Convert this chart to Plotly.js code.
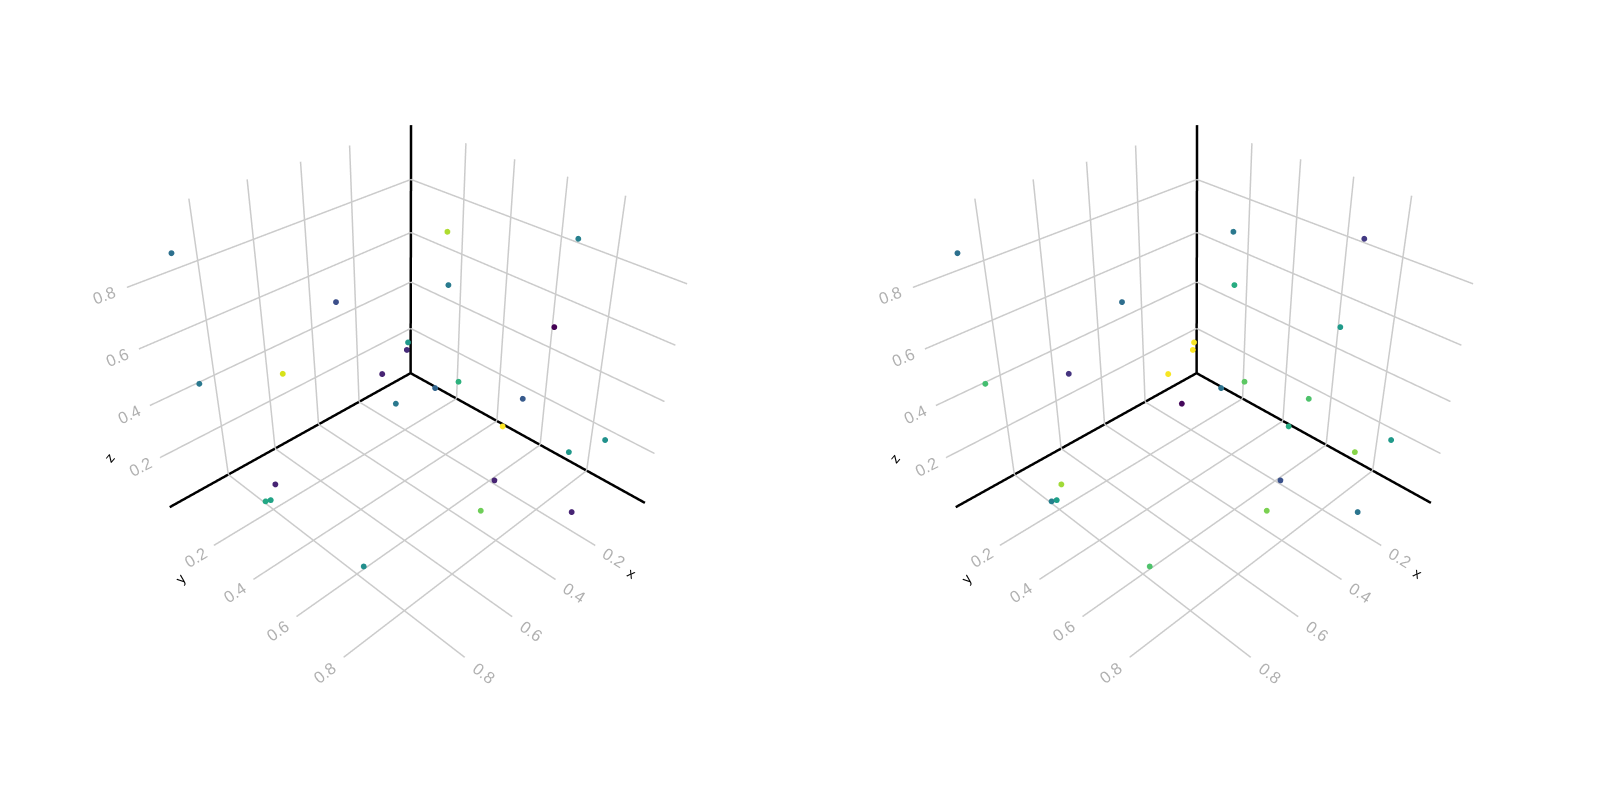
<!DOCTYPE html><html><head><meta charset="utf-8"><script src="https://cdn.plot.ly/plotly-3.0.1.min.js"></script></head><body style="margin:0;background:#fff">
<div id="g" style="width:1600px;height:800px"></div>
<script>
var xs=[.95,.61,.935,.784,.565,.459,.468,.562,.456,.417,.225,.327,.117,.244,.295,.332,.173,.08,.433,.211,.525,.856,.884,.892,.878];
var ys=[.08,.339,.093,.297,.475,.474,.478,.527,.582,.637,.404,.506,.788,.827,.779,.742,.878,.941,.804,.939,.834,.308,.316,.3,.721];
var zs=[.92,.74,.5,.56,.54,.6,.58,.46,.49,.52,.85,.75,.92,.71,.47,.37,.26,.29,.26,.08,.22,.2,.16,.15,.17];
var c1=[.37,.24,.40,.94,.1,.53,.12,.40,.32,.64,.88,.41,.43,0,.28,1,.53,.5,.1,.1,.78,.1,.58,.6,.49];
var c2=[.37,.36,.70,.15,.99,.99,1,.02,.38,.75,.40,.62,.17,.54,.72,.62,.82,.54,.25,.39,.8,.86,.56,.43,.72];
var xr=[-.08,1.035],yr=[-.05,1.035],zr=[-.01,.995];
var tv=[.2,.4,.6,.8];
var tl=['0.2','0.4','0.6','0.8'];
var e=.004;
var dom=[17.5/1600,797.5/1600], dom2=[803.5/1600,1583.5/1600];
function ax(r){return {title:{text:''},range:r,tickvals:tv,ticktext:tl,tickfont:{color:'#b0b0b0',size:14,family:'Liberation Sans'},showgrid:false,showline:false,zeroline:false,showbackground:false,showspikes:false,ticks:'outside',ticklen:0};}
function sc(d){return {domain:{x:d,y:[0,1]},aspectmode:'manual',aspectratio:{x:1.038,y:1.011,z:.935},camera:{eye:{x:1.467,y:1.467,z:1.40}},xaxis:ax(xr),yaxis:ax(yr),zaxis:ax(zr)};}
function tr(c,s){return {type:'scatter3d',mode:'markers',x:xs,y:ys,z:zs,scene:s,marker:{size:3.4,color:c,colorscale:'Viridis',cmin:0,cmax:1,line:{width:0}},showlegend:false};}
function ln(s,X,Y,Z,col,w){return {type:'scatter3d',mode:'lines',x:X,y:Y,z:Z,scene:s,line:{color:col,width:w},showlegend:false,hoverinfo:'skip',connectgaps:false};}
var a=xr[0]+e,b=yr[0]+e,c=zr[0]+e,A=xr[1]-e,B=yr[1]-e,C=zr[1]-e;
function grid(s){var X=[],Y=[],Z=[];
 function seg(p,q){X.push(p[0],q[0],null);Y.push(p[1],q[1],null);Z.push(p[2],q[2],null);}
 tv.forEach(function(t){seg([t,b,c],[t,B,c]);seg([a,t,c],[A,t,c]);seg([a,t,c],[a,t,C]);seg([t,b,c],[t,b,C]);seg([a,b,t],[A,b,t]);seg([a,b,t],[a,B,t]);});
 return ln(s,X,Y,Z,'#cbcbcb',3);}
function lines(s){return [grid(s),ln(s,[a,A],[b,b],[c,c],'#000',5),ln(s,[a,a],[b,B],[c,c],'#000',5),ln(s,[a,a],[b,b],[c,C],'#000',5)];}
function tit(t,X,Y,ang){return {xref:'paper',yref:'paper',x:X/1600,y:(756-Y)/756,text:t,showarrow:false,textangle:ang,font:{color:'#000',size:14,family:'Liberation Sans'},xanchor:'center',yanchor:'middle'};}
var ann=[tit('x',631,573,30),tit('y',180,579,-50),tit('z',109,458,-50),tit('x',1417,573,30),tit('y',966,579,-50),tit('z',895,458,-50)];
Plotly.newPlot('g',[tr(c1,'scene'),tr(c2,'scene2')].concat(lines('scene'),lines('scene2')),{width:1600,height:800,margin:{l:0,r:0,t:0,b:44},scene:sc(dom),scene2:sc(dom2),annotations:ann,showlegend:false,paper_bgcolor:'#fff'},{displayModeBar:false});
</script></body></html>
